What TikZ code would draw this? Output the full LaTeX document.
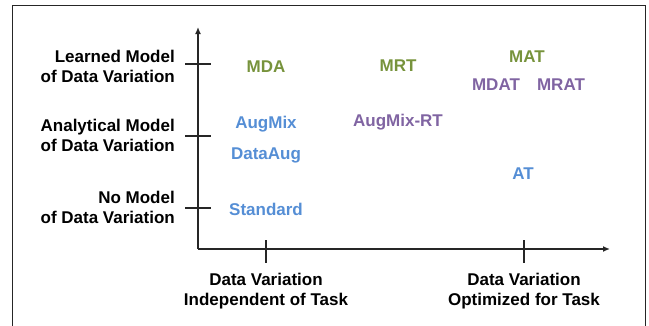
\documentclass[tikz,border=0pt]{standalone}
\usepackage{fontspec}
\setmainfont{Liberation Sans}
\usetikzlibrary{arrows.meta}
\definecolor{cgreen}{HTML}{77933C}
\definecolor{cblue}{HTML}{558ED5}
\definecolor{cpurple}{HTML}{8064A2}
\begin{document}
\begin{tikzpicture}[x=1pt,y=-1pt,
  axis/.style={line width=1.4pt,draw=black!85},
  axisarrow/.style={axis,-{Latex[length=7pt,width=6pt]}},
  tickline/.style={line width=1.2pt,draw=black!85},
  axlabel/.style={font=\bfseries\fontsize{17}{20}\selectfont,inner sep=0pt},
  method/.style={font=\bfseries\fontsize{17}{20}\selectfont,inner sep=0pt,text height=12.2pt,text depth=0pt,anchor=center}]
\useasboundingbox (0,0) rectangle (649,325);
% frame
\draw[line width=1.5pt,black!85] (12.5,330) -- (12.5,5.5) -- (645.5,5.5) -- (645.5,330);
% axes
\coordinate (O) at (198,249);
\coordinate (ytop) at (198,27);
\coordinate (xend) at (610,249);
\draw[axisarrow] (O) -- (ytop);
\draw[axisarrow] (O) -- (xend);
% y ticks
\coordinate (ya1) at (185,64);  \coordinate (yb1) at (211,64);
\coordinate (ya2) at (185,136); \coordinate (yb2) at (211,136);
\coordinate (ya3) at (185,208); \coordinate (yb3) at (211,208);
\draw[tickline] (ya1) -- (yb1);
\draw[tickline] (ya2) -- (yb2);
\draw[tickline] (ya3) -- (yb3);
% x ticks
\coordinate (xa1) at (266,240); \coordinate (xb1) at (266,263);
\coordinate (xa2) at (524,240); \coordinate (xb2) at (524,263);
\draw[tickline] (xa1) -- (xb1);
\draw[tickline] (xa2) -- (xb2);
% y labels
\node[axlabel,anchor=east,align=right] (learned) at (175,66) {Learned Model\\of Data Variation};
\node[axlabel,anchor=east,align=right] (analytical) at (175,135) {Analytical Model\\of Data Variation};
\node[axlabel,anchor=east,align=right] (nomodel) at (175,207.5) {No Model\\of Data Variation};
% x labels
\node[axlabel,align=center] (indep) at (266,291) {Data Variation\\Independent of Task};
\node[axlabel,align=center] (optim) at (524,291) {Data Variation\\Optimized for Task};
% methods
\node[method,text=cgreen] (mda) at (266,66) {MDA};
\node[method,text=cgreen] (mrt) at (398,65) {MRT};
\node[method,text=cgreen] (mat) at (527,56) {MAT};
\node[method,text=cpurple] (mdat) at (496,84) {MDAT};
\node[method,text=cpurple] (mrat) at (561,84) {MRAT};
\node[method,text=cpurple] (augmixrt) at (398,120) {AugMix-RT};
\node[method,text=cblue] (augmix) at (266,122) {AugMix};
\node[method,text=cblue] (dataaug) at (266,153) {DataAug};
\node[method,text=cblue] (standard) at (266,209) {Standard};
\node[method,text=cblue] (at) at (523,173) {AT};
\end{tikzpicture}
\end{document}
